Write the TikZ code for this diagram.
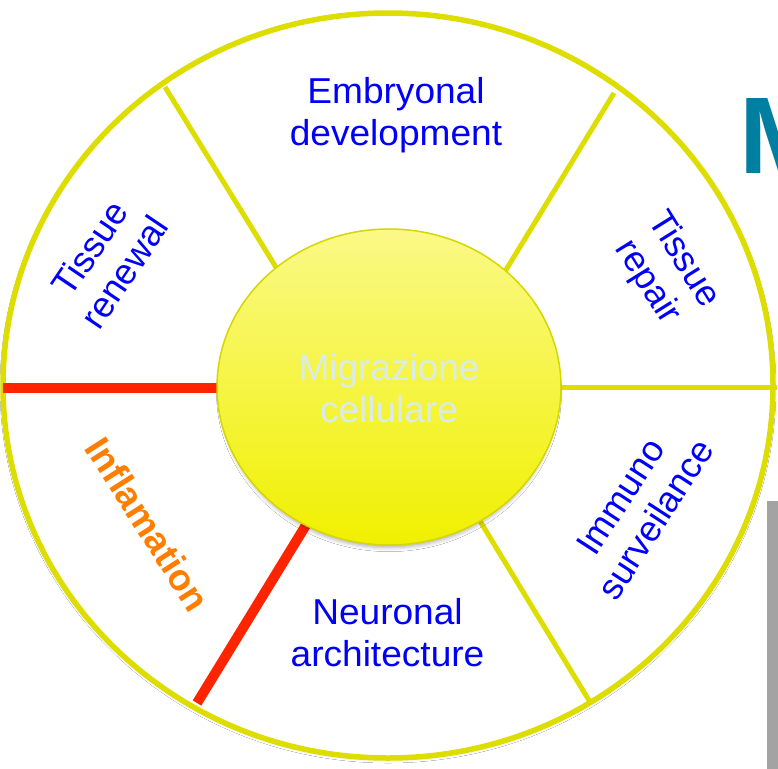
\documentclass[tikz,border=0pt]{standalone}
\usepackage{fontspec}
\setmainfont{Liberation Sans}
\usetikzlibrary{shapes.geometric,shadows.blur}

\definecolor{ringyellow}{RGB}{221,221,0}
\definecolor{spokered}{RGB}{255,36,0}
\definecolor{labelblue}{RGB}{0,0,250}
\definecolor{inflorange}{RGB}{255,126,0}
\definecolor{hubtop}{RGB}{251,249,135}
\definecolor{hubbottom}{RGB}{240,240,0}
\definecolor{hubedge}{RGB}{214,214,0}
\definecolor{migtext}{RGB}{218,236,230}
\definecolor{mteal}{RGB}{0,127,160}
\definecolor{slidegray}{RGB}{163,163,163}

\begin{document}
\begin{tikzpicture}[x=1pt,y=-1pt,
  lbl/.style={font=\fontsize{36}{42}\selectfont, text=labelblue, align=center, inner sep=0pt},
  hlbl/.style={lbl, xscale=1.03},
  spoke/.style={draw=ringyellow, line width=5pt},
  redspoke/.style={draw=spokered, line width=10pt},
]
\useasboundingbox (0,0) rectangle (778,768);
\clip (0,0) rectangle (778,768);
\fill[white] (0,0) rectangle (778,768);

% clipped pieces of the slide behind
\node[font=\bfseries\fontsize{109}{109}\selectfont, text=mteal, inner sep=0pt, anchor=base west] (mletter) at (739,173) {M};
\fill[slidegray] (767,501) rectangle (780,770);

% outer ring
\node[ellipse, draw=ringyellow, fill=white, line width=5.5pt, minimum width=770pt, minimum height=745pt,
      inner sep=0pt, outer sep=0pt,
      blur shadow={shadow xshift=0pt, shadow yshift=-2pt, shadow opacity=12, shadow blur radius=3pt}] (ring) at (388,385.5) {};

% spoke end points
\coordinate (c) at (389,387);
\coordinate (tlo) at (165,87);
\coordinate (tro) at (614,93);
\coordinate (ro) at (777,387);
\coordinate (bro) at (590,702);
\coordinate (blo) at (197,703);
\coordinate (lo) at (3,388);
\coordinate (tli) at (290,290);
\coordinate (tri) at (490,296);
\coordinate (ri) at (520,387);
\coordinate (bri) at (466,498);
\coordinate (bli) at (322,499);
\coordinate (li) at (260,388);

\draw[spoke] (tlo) -- (tli);
\draw[spoke] (tro) -- (tri);
\draw[spoke] (ro) -- (ri);
\draw[spoke] (bro) -- (bri);
\draw[redspoke] (blo) -- (bli);
\draw[redspoke] (lo) -- (li);

% hub
\node[ellipse, minimum width=344pt, minimum height=316pt, inner sep=0pt,
      top color=hubtop, bottom color=hubbottom, draw=hubedge, line width=1.5pt,
      blur shadow={shadow xshift=0pt, shadow yshift=-6pt, shadow scale=0.98, shadow opacity=30, shadow blur radius=4pt}] (hub) at (c) {};
\node[font=\fontsize{37}{42}\selectfont, text=migtext, align=center, inner sep=0pt] (mig) at (389,388) {Migrazione\\cellulare};

% labels
\node[hlbl] (embryo) at (396,115) {Embryonal\\development};
\node[hlbl] (neuro) at (387.5,633) {Neuronal\\architecture};
\node[lbl, rotate=56] (renewal) at (107,260) {Tissue\\renewal};
\node[lbl, rotate=-58] (repair) at (665,271) {Tissue\\repair};
\node[lbl, rotate=57] (immuno) at (638,508) {Immuno\\surveilance};
\node[font=\bfseries\fontsize{37}{42}\selectfont, text=inflorange, inner sep=0pt, rotate=-57.4] (infl) at (148,524) {Inflamation};
\end{tikzpicture}
\end{document}
